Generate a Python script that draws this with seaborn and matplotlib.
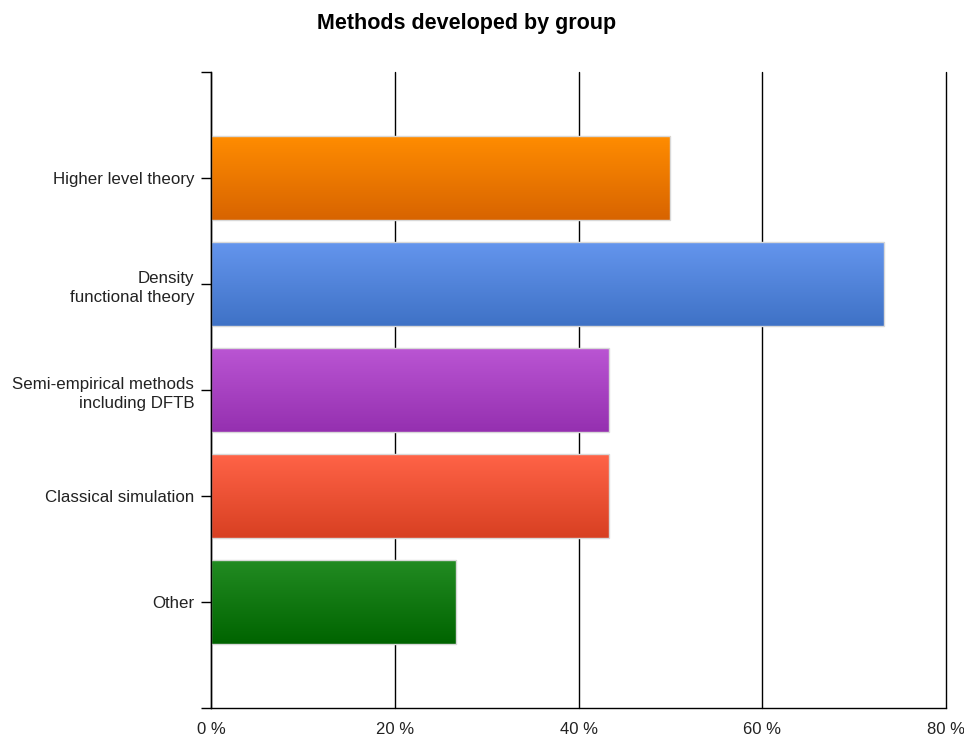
import matplotlib
matplotlib.use("Agg")
import matplotlib.pyplot as plt
import matplotlib.colors as mcolors
import numpy as np
import pandas as pd
import seaborn as sns

categories = ["Higher level theory", "Density\nfunctional theory",
              "Semi-empirical methods\nincluding DFTB", "Classical simulation", "Other"]
values = [50.0, 73.3, 43.3, 43.3, 26.7]
top_colors = ["#FF8C00", "#6495ED", "#BA55D3", "#FF6347", "#228B22"]
bottom_colors = ["#D86400", "#3F72C6", "#9530B0", "#D84022", "#006400"]
x_ticks = [0, 20, 40, 60, 80]
x_tick_labels = ["0 %", "20 %", "40 %", "60 %", "80 %"]

sns.set_style("white")
plt.rcParams['font.family'] = ['Liberation Sans', 'DejaVu Sans']

df = pd.DataFrame({"category": categories, "value": values})

fig = plt.figure(figsize=(9.64, 7.35), dpi=100)
ax = fig.add_axes([211/964, 1 - 708/735, (946-211)/964, (708-72)/735])

sns.barplot(data=df, y="category", x="value", hue="category", palette=top_colors,
            orient="h", width=0.79, ax=ax, legend=False, zorder=3,
            edgecolor="#D8D8D8", linewidth=1.0)

ax.set_xlim(0, 80)
ax.set_ylim(5, -1)
ax.set_xticks(x_ticks)
ax.set_xticklabels(x_tick_labels)
ax.xaxis.grid(True, color="black", linewidth=1.0, zorder=0)
ax.set_axisbelow(True)
for gl in ax.get_xgridlines():
    gl.set_clip_on(False)
ax.set_xlabel("")
ax.set_ylabel("")

# gradient fill for each bar
for patch, ct, cb in zip(ax.patches, top_colors, bottom_colors):
    x0, y0 = patch.get_x(), patch.get_y()
    w, h = patch.get_width(), patch.get_height()
    c1 = np.array(mcolors.to_rgb(ct))
    c2 = np.array(mcolors.to_rgb(cb))
    t = np.linspace(0, 1, 64)[:, None]
    grad = (c1 * (1 - t) + c2 * t)[:, None, :]
    im = ax.imshow(grad, extent=[x0, x0 + w, y0 + h, y0], aspect="auto",
                   zorder=3.5, origin="upper")
    im.set_clip_path(patch)
    patch.set_facecolor("none")
    patch.set_zorder(4)

ax.set_xlim(0, 80)
ax.set_ylim(5, -1)

for s in ["top", "right"]:
    ax.spines[s].set_visible(False)
for s in ["left", "bottom"]:
    ax.spines[s].set_color("black")
    ax.spines[s].set_linewidth(1.0)
    ax.spines[s].set_zorder(5)

ax.tick_params(axis="y", which="major", left=True, length=7, width=1,
               color="black", labelsize=12.2, labelcolor="#222222", pad=5)
ax.tick_params(axis="x", which="major", bottom=True, length=0,
               labelsize=12, labelcolor="#222222", pad=10)
ax.set_yticks([-1, 5], minor=True)
ax.tick_params(axis="y", which="minor", left=True, length=7, width=1, color="black")
for lbl in ax.get_yticklabels():
    lbl.set_horizontalalignment("right")
    lbl.set_multialignment("right")
    lbl.set_linespacing(1.4)

fig.text(467/964, 1 - 23/735, "Methods developed by group", ha="center", va="center",
         fontsize=15.5, fontweight="bold", color="black")

fig.savefig("out.png", dpi=100)
